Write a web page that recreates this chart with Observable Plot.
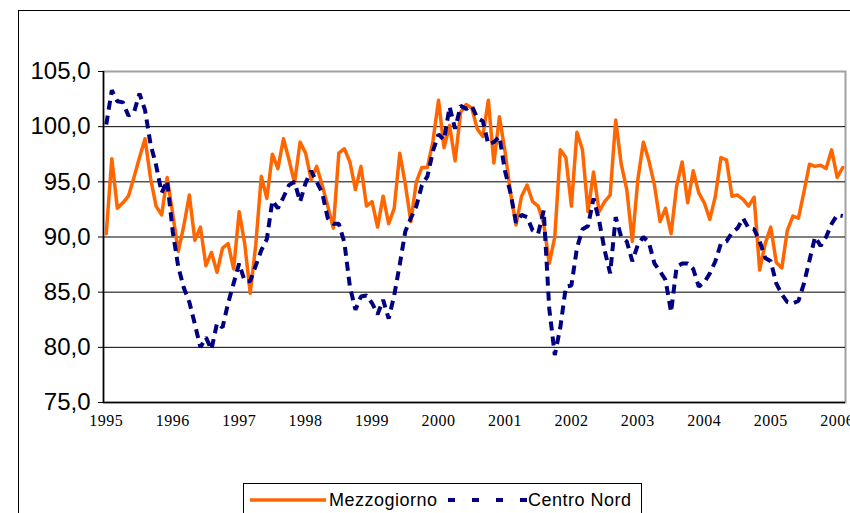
<!DOCTYPE html>
<html><head><meta charset="utf-8">
<script src="https://cdn.jsdelivr.net/npm/d3@7"></script>
<script src="https://cdn.jsdelivr.net/npm/@observablehq/plot@0.6"></script>
<style>
html,body{margin:0;padding:0;background:#fff;}
body{width:850px;height:513px;overflow:hidden;position:relative;font-family:"Liberation Sans",Arial,sans-serif;}
#chart{position:absolute;left:0;top:0;}
#frame{position:absolute;left:18px;top:10px;width:900px;height:600px;border-left:1px solid #000;border-top:1px solid #000;pointer-events:none;}
#legend{position:absolute;left:243px;top:483px;width:397px;height:40px;border:1px solid #000;background:#fff;}
#legend svg{position:absolute;left:0;top:0;}
#legend span{position:absolute;top:6px;font-size:18px;line-height:20px;letter-spacing:0.5px;color:#000;white-space:nowrap;}
</style></head><body>
<div id="chart"></div>
<div id="frame"></div>
<div id="legend">
  <svg width="397" height="40">
    <line x1="6" y1="16" x2="82" y2="16" stroke="#FF6600" stroke-width="3.5"/>
    <line x1="204" y1="16" x2="284" y2="16" stroke="#000080" stroke-width="4" stroke-dasharray="7,17"/>
  </svg>
  <span style="left:85px">Mezzogiorno</span>
  <span style="left:284px">Centro Nord</span>
</div>
<script>
const years = ["1995","1996","1997","1998","1999","2000","2001","2002","2003","2004","2005","2006"];
const yTicks = [75, 80, 85, 90, 95, 100, 105];
const gridValues = [80, 85, 90, 95, 100];

const mezzogiorno = [
 90.3, 97.1, 92.6, 93.1, 93.7, 95.4, 97.2, 98.9, 95.3, 92.8,
 92.0, 95.4, 92.1, 88.7, 91.0, 93.8, 89.7, 90.9, 87.4, 88.6,
 86.8, 89.0, 89.4, 87.1, 92.3, 89.4, 84.9, 89.3, 95.5, 93.5,
 97.5, 96.2, 98.9, 97.0, 94.9, 98.6, 97.6, 95.2, 96.4, 94.7,
 92.8, 90.8, 97.6, 98.0, 96.8, 94.3, 96.4, 92.8, 93.2, 90.9,
 93.7, 91.2, 92.6, 97.6, 94.8, 91.4, 95.0, 96.3, 96.3, 98.7,
 102.4, 98.1, 100.1, 96.9, 101.3, 102.0, 101.7, 99.8, 99.1, 102.4,
 96.7, 100.9, 97.8, 94.0, 91.1, 93.7, 94.7, 93.2, 92.8, 91.2,
 87.6, 90.0, 97.9, 97.2, 92.8, 99.5, 97.9, 92.3, 95.9, 92.3,
 93.2, 93.8, 100.6, 96.6, 94.3, 89.6, 95.2, 98.6, 96.9, 94.7,
 91.4, 92.6, 90.3, 94.6, 96.8, 93.1, 96.0, 94.0, 93.1, 91.6,
 93.7, 97.2, 97.0, 93.7, 93.8, 93.4, 92.8, 93.6, 87.0, 89.4,
 90.9, 87.7, 87.2, 90.6, 91.9, 91.7, 94.1, 96.6, 96.4, 96.5,
 96.2, 97.9, 95.4, 96.3
];
const centroNord = [
 100.2, 103.3, 102.3, 102.2, 101.0, 101.3, 103.0, 101.5, 98.4, 96.5,
 94.0, 95.1, 90.5, 87.3, 85.4, 84.1, 82.1, 80.0, 80.9, 79.8,
 82.2, 81.8, 84.0, 85.8, 87.6, 86.0, 86.0, 87.4, 88.8, 89.8,
 93.3, 92.6, 93.6, 94.7, 95.0, 93.2, 94.9, 96.0, 95.0, 94.0,
 91.7, 91.2, 91.2, 89.5, 85.5, 83.4, 84.6, 84.7, 84.0, 83.0,
 84.3, 82.6, 84.7, 87.5, 90.5, 91.7, 92.8, 94.7, 95.5, 97.8,
 99.3, 98.8, 101.8, 99.8, 101.9, 101.6, 101.9, 100.8, 100.5, 98.4,
 98.6, 99.1, 96.0, 94.0, 91.3, 92.0, 91.8, 90.6, 90.3, 92.4,
 83.5, 79.3, 81.8, 85.5, 85.6, 89.0, 90.7, 91.0, 93.5, 91.5,
 88.8, 86.7, 91.8, 90.0, 89.6, 87.8, 89.3, 90.0, 89.5, 87.6,
 86.9, 86.1, 83.2, 87.3, 87.6, 87.6, 87.1, 85.5, 85.9, 86.7,
 87.8, 89.4, 89.6, 90.4, 90.8, 91.7, 90.8, 90.7, 89.6, 88.1,
 87.8, 85.8, 84.8, 84.1, 84.0, 84.2, 85.8, 87.9, 90.0, 89.2,
 90.0, 91.2, 92.0, 91.9
];

const n = mezzogiorno.length;
const dataM = mezzogiorno.map((v, i) => ({i, v}));
const dataC = centroNord.map((v, i) => ({i, v}));
const xTicks = years.map((y, k) => k * 12);

const svg = Plot.plot({
  width: 850,
  height: 478,
  marginLeft: 103,
  marginRight: 5,
  marginTop: 71,
  marginBottom: 76,
  style: {fontFamily: "'Liberation Sans', Arial, sans-serif", background: "#fff", overflow: "visible"},
  x: {domain: [-0.5, n - 0.5], label: null},
  y: {domain: [75, 105], label: null},
  marks: [
    Plot.frame({stroke: "#a0a0a0", strokeWidth: 2}),
    Plot.ruleY(gridValues, {stroke: "#000", strokeWidth: 1}),
    Plot.axisY({ticks: yTicks, tickSize: 5, tickPadding: 8, tickFormat: d => d.toFixed(1).replace(".", ","), label: null, fontSize: 24}),
    Plot.axisX({ticks: xTicks, tickSize: 0, tickPadding: 12, tickFormat: i => years[Math.round(i / 12)], label: null, fontSize: 16, fontFamily: "'Liberation Serif', 'Times New Roman', serif"}),
    Plot.ruleX([-0.5], {stroke: "#000", strokeWidth: 1.5}),
    Plot.ruleY([75], {stroke: "#000", strokeWidth: 1.5}),
    Plot.lineY(dataM, {x: "i", y: "v", stroke: "#FF6600", strokeWidth: 3.5, strokeLinejoin: "round"}),
    Plot.lineY(dataC, {x: "i", y: "v", stroke: "#000080", strokeWidth: 4, strokeDasharray: "9,6", strokeLinecap: "butt", strokeLinejoin: "miter"})
  ]
});
document.getElementById("chart").appendChild(svg);
d3.select(svg).selectAll('g[aria-label="x-axis tick label"]').attr("letter-spacing", "0.5px");
</script>
</body></html>
